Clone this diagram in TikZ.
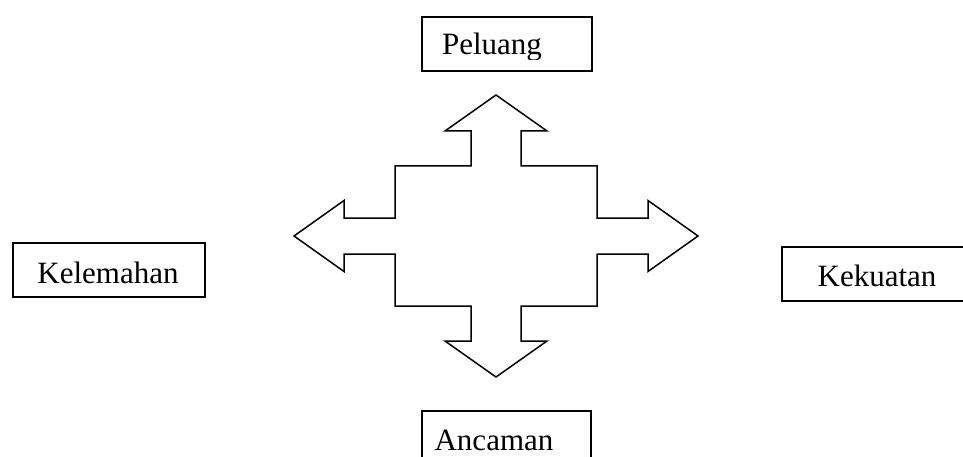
\documentclass[tikz,border=0pt]{standalone}
\usepackage{fontspec}
\setmainfont{Liberation Serif}
\begin{document}
\begin{tikzpicture}[x=1pt,y=-1pt,
  box/.style={draw=black,line width=1.6pt,rectangle,inner sep=0pt,anchor=north west},
  lbl/.style={anchor=base,inner sep=0pt,font=\fontsize{31}{36}\selectfont}]
\useasboundingbox[fill=white] (0,0) rectangle (963,457);
% boxes
\node[box,minimum width=170pt,minimum height=54pt] (peluang) at (421,16) {};
\node[box,minimum width=192pt,minimum height=54pt] (kelemahan) at (12,242) {};
\node[box,minimum width=190pt,minimum height=54pt] (kekuatan) at (781,246) {};
\node[box,minimum width=169pt,minimum height=60pt] (ancaman) at (421,410) {};
% labels
\begin{scope}
\clip (421,16) rectangle (591,60);
\node[lbl] (tp) at (492,55) {Peluang};
\end{scope}
\node[lbl] (tk) at (108,283) {Kelemahan};
\node[lbl] (tu) at (877,286) {Kekuatan};
\node[lbl] (ta) at (494,450) {Ancaman};
% four-way arrow
\draw[line width=1.5pt,line join=miter]
  (496,95) -- (547,131) -- (521,131) -- (521,166) -- (597,166) -- (597,218)
  -- (648,218) -- (648,200.5) -- (698,236) -- (648,271.5) -- (648,254)
  -- (597,254) -- (597,306) -- (521,306) -- (521,341) -- (547,341)
  -- (496,377) -- (445,341) -- (471,341) -- (471,306) -- (395,306)
  -- (395,254) -- (344,254) -- (344,271.5) -- (294,236) -- (344,200.5)
  -- (344,218) -- (395,218) -- (395,166) -- (471,166) -- (471,131)
  -- (445,131) -- cycle;
\end{tikzpicture}
\end{document}
